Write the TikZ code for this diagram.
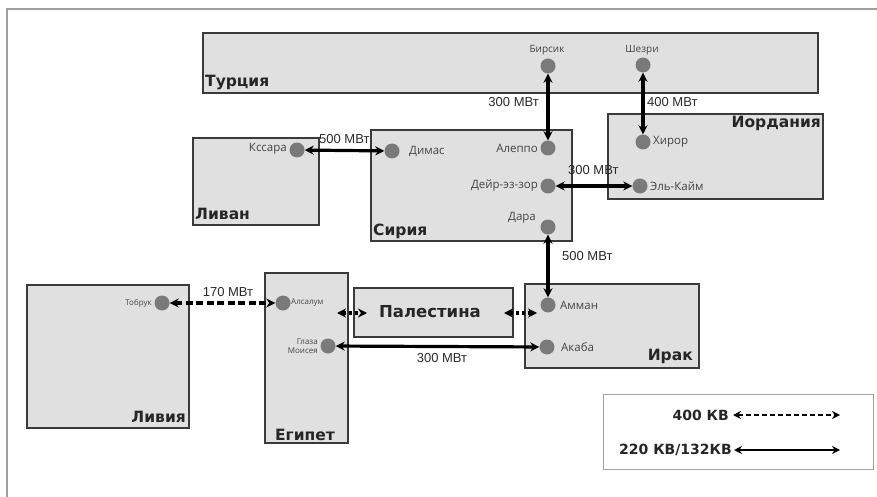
\documentclass[tikz,border=0pt]{standalone}
\usepackage{fontspec}
\setmainfont{Liberation Sans}
\newfontfamily\cfont{DejaVu Sans}
\newfontfamily\nfont{Open Sans}
\usetikzlibrary{arrows.meta}
\definecolor{boxfill}{HTML}{E0E0E0}
\definecolor{boxline}{HTML}{3A3A3A}
\definecolor{dotgray}{HTML}{7A7A7A}
\definecolor{lblgray}{HTML}{444444}
\definecolor{pwgray}{HTML}{2A2A2A}
\definecolor{framegray}{HTML}{A0A0A0}
\begin{document}
\begin{tikzpicture}[x=1pt,y=-1pt,
  box/.style={draw=boxline, fill=boxfill, line width=1.8pt, inner sep=0pt, anchor=north west},
  cname/.style={font=\cfont\bfseries\fontsize{15.5}{15.5}\selectfont, text=black!85, inner sep=0pt},
  dot/.style={circle, fill=dotgray, minimum size=15pt, inner sep=0pt},
  lbl/.style={font=\nfont\fontsize{11.5}{12}\selectfont, text=lblgray, inner sep=0pt},
  slbl/.style={font=\nfont\fontsize{8}{9}\selectfont, text=lblgray, inner sep=0pt},
  pw/.style={font=\fontsize{13}{13}\selectfont, text=pwgray, inner sep=0pt},
  link/.style={line width=3.2pt, {Stealth[length=9pt,width=9pt]}-{Stealth[length=9pt,width=9pt]}},
  dlink/.style={link, dash pattern=on 7pt off 3.5pt},
  plink/.style={link, dash pattern=on 3.5pt off 2.5pt},
  leglink/.style={line width=2.2pt, {Stealth[length=8pt,width=8pt]}-{Stealth[length=8pt,width=8pt]}}
]
\useasboundingbox (0,0) rectangle (877,497);
\fill[white] (0,0) rectangle (877,497);
\draw[framegray, line width=1.5pt] (7,497) -- (7,9) -- (877,9);

% country boxes
\node[box, minimum width=615pt, minimum height=60pt] (tur) at (202,32) {};
\node[box, minimum width=126pt, minimum height=87pt] (leb) at (192,137) {};
\node[box, minimum width=215pt, minimum height=85pt] (jor) at (607,113) {};
\node[box, minimum width=174pt, minimum height=84pt] (irq) at (524,283) {};
\node[box, minimum width=159pt, minimum height=49pt] (pal) at (353,287) {};
\node[box, minimum width=162pt, minimum height=143pt] (lib) at (26,284) {};
\node[box, minimum width=83pt, minimum height=170pt] (egy) at (264,272) {};
\node[pw, anchor=west] (p500a) at (319,139) {500 МВт};
\node[box, minimum width=201pt, minimum height=111pt] (syr) at (370,129) {};
\node[draw=framegray, line width=1pt, fill=white, minimum width=270pt, minimum height=75pt, anchor=north west, inner sep=0pt] (leg) at (603,394) {};

% country names
\node[cname, anchor=base west] (ntur) at (205,87) {Турция};
\node[cname, anchor=base west] (nleb) at (195,219) {Ливан};
\node[cname, anchor=base west] (nsyr) at (373,235) {Сирия};
\node[cname, anchor=base east] (njor) at (821,128) {Иордания};
\node[cname, anchor=base east] (nirq) at (693,360) {Ирак};
\node[cname, anchor=base east] (nlib) at (186,422) {Ливия};
\node[cname, anchor=base] (negy) at (305,440) {Египет};
\node[cname, font=\cfont\bfseries\fontsize{16.5}{16.5}\selectfont] (npal) at (430,312) {Палестина};

% stations
\node[dot] (bir) at (548,66) {};
\node[dot] (she) at (643,65) {};
\node[dot] (kss) at (297,150) {};
\node[dot] (dim) at (392,151) {};
\node[dot] (ale) at (548,148) {};
\node[dot] (dei) at (548,186) {};
\node[dot] (dar) at (548,227) {};
\node[dot] (hir) at (643,142) {};
\node[dot] (elk) at (640,186) {};
\node[dot] (amm) at (548,305) {};
\node[dot] (aka) at (547,347) {};
\node[dot] (tob) at (162,303) {};
\node[dot] (als) at (283,303) {};
\node[dot] (gla) at (328,346) {};

% station labels
\node[lbl, font=\nfont\fontsize{10}{11}\selectfont] at (547,50) {Бирсик};
\node[lbl, font=\nfont\fontsize{10}{11}\selectfont] at (642,50) {Шезри};
\node[lbl, anchor=east] at (287,149) {Кссара};
\node[lbl, anchor=west] at (409,151) {Димас};
\node[lbl, anchor=east] at (538,148) {Алеппо};
\node[lbl, anchor=east] at (538,186) {Дейр-эз-зор};
\node[lbl] at (522,218) {Дара};
\node[lbl, anchor=west] at (653,142) {Хирор};
\node[lbl, anchor=west] at (650,186) {Эль-Кайм};
\node[lbl, anchor=west] at (560,305) {Амман};
\node[lbl, anchor=west] at (561,347) {Акаба};
\node[slbl, anchor=east] at (152,303) {Тобрук};
\node[slbl, anchor=west] at (291,303) {Алсалум};
\node[slbl, anchor=east, align=right] at (318,346) {Глаза\\Моисея};

% links
\draw[link] (kss) -- (dim);
\draw[link] (bir) -- (ale);
\draw[link] (she) -- (hir);
\draw[link] (dei) -- (elk);
\draw[link] (dar) -- (amm);
\draw[link] (gla) -- (aka);
\draw[dlink] (tob) -- (als);
\coordinate (pa1) at (337,313);
\coordinate (pa2) at (367,313);
\coordinate (pa3) at (504,313);
\coordinate (pa4) at (537,313);
\draw[plink] (pa1) -- (pa2);
\draw[plink] (pa3) -- (pa4);

% power labels
\node[pw, anchor=east] at (539,102) {300 МВт};
\node[pw, anchor=west] at (647,102) {400 МВт};
\node[pw, anchor=west] at (568,170) {300 МВт};
\node[pw, anchor=west] at (562,256) {500 МВт};
\node[pw] at (228,292) {170 МВт};
\node[pw] at (442,358) {300 МВт};

% legend
\node[cname, font=\cfont\bfseries\fontsize{14}{14}\selectfont, anchor=east] (l400) at (729,415) {400 КВ};
\node[cname, font=\cfont\bfseries\fontsize{14}{14}\selectfont, anchor=east] (l220) at (732,450) {220 КВ/132КВ};
\coordinate (la1) at (733,415);
\coordinate (la2) at (840,415);
\coordinate (lb1) at (734,450);
\coordinate (lb2) at (840,450);
\draw[leglink, dash pattern=on 5pt off 3pt] (la1) -- (la2);
\draw[leglink] (lb1) -- (lb2);
\end{tikzpicture}
\end{document}
